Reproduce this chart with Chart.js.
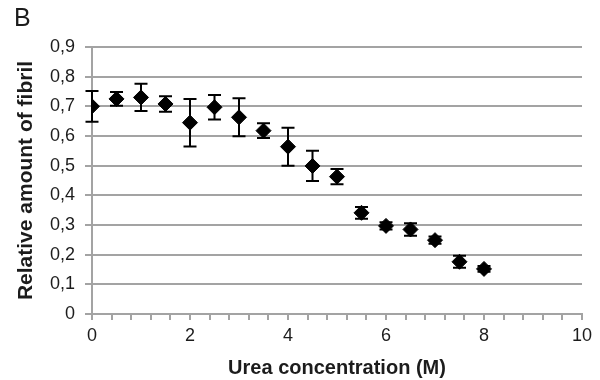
<!DOCTYPE html>
<html lang="en">
<head>
<meta charset="UTF-8">
<title>Urea denaturation</title>
<script src="https://cdn.jsdelivr.net/npm/chart.js@4"></script>
<style>
    html, body { margin: 0; padding: 0; background: #fff; }
    #wrap { width: 600px; height: 380px; }
</style>
</head>
<body>
<div id="wrap"><canvas id="chart" width="600" height="380"></canvas></div>
<script>
// urea concentration (M)
const urea = [0, 0.5, 1, 1.5, 2, 2.5, 3, 3.5, 4, 4.5, 5, 5.5, 6, 6.5, 7, 7.5, 8];
// relative amount of fibril
const fibril = [0.700, 0.725, 0.730, 0.708, 0.645, 0.697, 0.663, 0.618, 0.564, 0.499, 0.463, 0.341, 0.297, 0.285, 0.249, 0.176, 0.152];
// error bar half-lengths
const fibrilErr = [0.052, 0.023, 0.046, 0.026, 0.080, 0.041, 0.064, 0.025, 0.064, 0.051, 0.026, 0.020, 0.012, 0.021, 0.012, 0.020, 0.010];
const xLabels = [0, 2, 4, 6, 8, 10];

const GRID = '#a3a3a3';
const TEXT = '#1c1c1c';

// draw the error bars under the diamonds
const errorBars = {
    id: 'errorBars',
    beforeDatasetsDraw(chart) {
        const { ctx, scales: { x, y } } = chart;
        ctx.save();
        ctx.strokeStyle = '#000';
        ctx.lineWidth = 2;
        urea.forEach((u, i) => {
            const px = x.getPixelForValue(u);
            const top = y.getPixelForValue(fibril[i] + fibrilErr[i]);
            const bot = y.getPixelForValue(fibril[i] - fibrilErr[i]);
            ctx.beginPath();
            ctx.moveTo(px, top); ctx.lineTo(px, bot);
            ctx.moveTo(px - 6.5, top); ctx.lineTo(px + 6.5, top);
            ctx.moveTo(px - 6.5, bot); ctx.lineTo(px + 6.5, bot);
            ctx.stroke();
        });
        ctx.restore();
    }
};

new Chart(document.getElementById('chart'), {
    type: 'scatter',
    data: {
        datasets: [{
            data: urea.map((u, i) => ({ x: u, y: fibril[i] })),
            pointStyle: 'rectRot',
            pointRadius: 7.5,
            pointHoverRadius: 7.5,
            backgroundColor: '#000',
            borderColor: '#000',
            borderWidth: 1
        }]
    },
    options: {
        responsive: false,
        animation: false,
        layout: { padding: { left: 14, right: 18, top: 0, bottom: 0 } },
        plugins: {
            legend: { display: false },
            tooltip: { enabled: false },
            title: {
                display: true,
                text: 'B',
                align: 'start',
                color: TEXT,
                font: { family: 'Liberation Sans, Arial, sans-serif', size: 25, weight: 'normal' },
                padding: { top: 4, bottom: 13 }
            }
        },
        scales: {
            x: {
                type: 'linear',
                min: 0,
                max: 10,
                afterFit: s => { s.height = 66; },
                afterBuildTicks: s => {
                    s.ticks = [];
                    for (let k = 0; k <= 25; k++) s.ticks.push({ value: k * 0.4 });
                },
                ticks: {
                    autoSkip: false,
                    maxRotation: 0,
                    color: TEXT,
                    padding: 5,
                    font: { family: 'Liberation Sans, Arial, sans-serif', size: 18 },
                    callback: v => {
                        const r = Math.round(v * 10) / 10;
                        return xLabels.includes(r) ? String(r) : '';
                    }
                },
                grid: {
                    drawOnChartArea: false,
                    drawTicks: true,
                    tickLength: 6,
                    color: GRID,
                    lineWidth: 2
                },
                border: { color: GRID, width: 2 },
                title: {
                    display: true,
                    text: 'Urea concentration (M)',
                    color: TEXT,
                    font: { family: 'Liberation Sans, Arial, sans-serif', size: 20, weight: 'bold' },
                    padding: { top: 0, bottom: 0 }
                }
            },
            y: {
                min: 0,
                max: 0.9,
                afterFit: s => { s.width = 78; },
                ticks: {
                    stepSize: 0.1,
                    color: TEXT,
                    padding: 10,
                    font: { family: 'Liberation Sans, Arial, sans-serif', size: 18 },
                    callback: v => v === 0 ? '0' : v.toFixed(1).replace('.', ',')
                },
                grid: {
                    color: GRID,
                    lineWidth: 2,
                    tickLength: 7
                },
                border: { color: GRID, width: 2 },
                title: {
                    display: true,
                    text: 'Relative amount of fibril',
                    color: TEXT,
                    font: { family: 'Liberation Sans, Arial, sans-serif', size: 21, weight: 'bold' },
                    padding: { top: 0, bottom: 0 }
                }
            }
        }
    },
    plugins: [errorBars]
});
</script>
</body>
</html>
